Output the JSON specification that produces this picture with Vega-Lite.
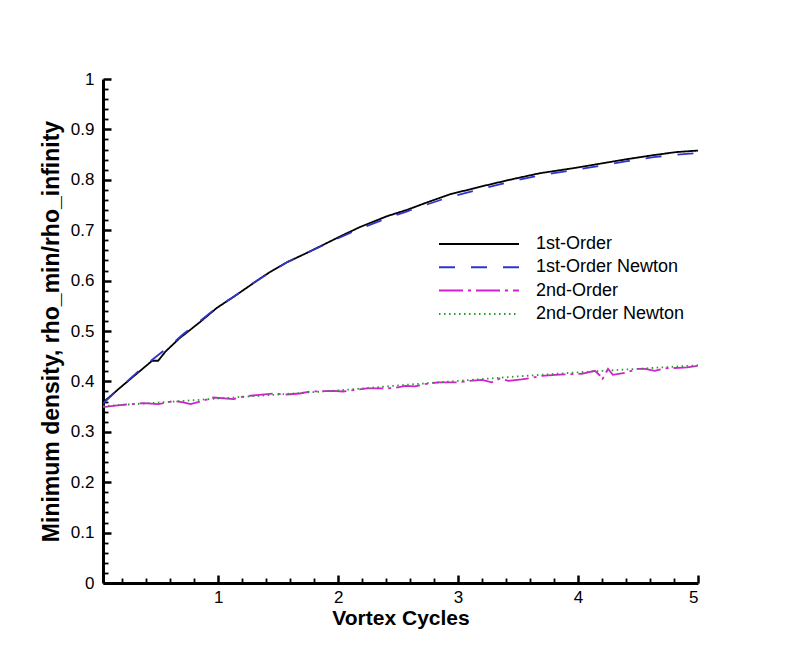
{
  "$schema": "https://vega.github.io/schema/vega-lite/v6.json",
  "width": 595,
  "height": 504,
  "autosize": {"type": "none"},
  "padding": {"left": 103, "top": 79, "right": 95, "bottom": 74},
  "background": "white",
  "config": {
    "view": {"stroke": null},
    "font": "Liberation Sans",
    "axis": {"grid": false, "domainColor": "black", "domainWidth": 3, "tickColor": "black", "labelColor": "black", "titleColor": "black"}
  },
  "data": {"values": [
    {"s": "1st-Order", "x": 0.04, "y": 0.358}, {"s": "1st-Order", "x": 0.18, "y": 0.387}, {"s": "1st-Order", "x": 0.32, "y": 0.415}, {"s": "1st-Order", "x": 0.45, "y": 0.441}, {"s": "1st-Order", "x": 0.50, "y": 0.441}, {"s": "1st-Order", "x": 0.56, "y": 0.459}, {"s": "1st-Order", "x": 0.68, "y": 0.486}, {"s": "1st-Order", "x": 0.85, "y": 0.518}, {"s": "1st-Order", "x": 0.99, "y": 0.546}, {"s": "1st-Order", "x": 1.13, "y": 0.568}, {"s": "1st-Order", "x": 1.27, "y": 0.591}, {"s": "1st-Order", "x": 1.38, "y": 0.609}, {"s": "1st-Order", "x": 1.46, "y": 0.621}, {"s": "1st-Order", "x": 1.57, "y": 0.636}, {"s": "1st-Order", "x": 1.74, "y": 0.655}, {"s": "1st-Order", "x": 1.91, "y": 0.675}, {"s": "1st-Order", "x": 2.02, "y": 0.688}, {"s": "1st-Order", "x": 2.18, "y": 0.706}, {"s": "1st-Order", "x": 2.41, "y": 0.728}, {"s": "1st-Order", "x": 2.57, "y": 0.740}, {"s": "1st-Order", "x": 2.74, "y": 0.755}, {"s": "1st-Order", "x": 2.93, "y": 0.771}, {"s": "1st-Order", "x": 3.18, "y": 0.786}, {"s": "1st-Order", "x": 3.43, "y": 0.800}, {"s": "1st-Order", "x": 3.68, "y": 0.813}, {"s": "1st-Order", "x": 3.96, "y": 0.823}, {"s": "1st-Order", "x": 4.21, "y": 0.833}, {"s": "1st-Order", "x": 4.41, "y": 0.841}, {"s": "1st-Order", "x": 4.63, "y": 0.849}, {"s": "1st-Order", "x": 4.82, "y": 0.855}, {"s": "1st-Order", "x": 5.0, "y": 0.858},
    {"s": "1st-Order Newton", "x": 0.04, "y": 0.356}, {"s": "1st-Order Newton", "x": 0.18, "y": 0.387}, {"s": "1st-Order Newton", "x": 0.32, "y": 0.417}, {"s": "1st-Order Newton", "x": 0.45, "y": 0.443}, {"s": "1st-Order Newton", "x": 0.59, "y": 0.469}, {"s": "1st-Order Newton", "x": 0.70, "y": 0.492}, {"s": "1st-Order Newton", "x": 0.85, "y": 0.520}, {"s": "1st-Order Newton", "x": 0.99, "y": 0.547}, {"s": "1st-Order Newton", "x": 1.13, "y": 0.568}, {"s": "1st-Order Newton", "x": 1.27, "y": 0.592}, {"s": "1st-Order Newton", "x": 1.46, "y": 0.620}, {"s": "1st-Order Newton", "x": 1.57, "y": 0.636}, {"s": "1st-Order Newton", "x": 1.74, "y": 0.655}, {"s": "1st-Order Newton", "x": 1.91, "y": 0.674}, {"s": "1st-Order Newton", "x": 2.02, "y": 0.686}, {"s": "1st-Order Newton", "x": 2.18, "y": 0.703}, {"s": "1st-Order Newton", "x": 2.41, "y": 0.724}, {"s": "1st-Order Newton", "x": 2.57, "y": 0.737}, {"s": "1st-Order Newton", "x": 2.74, "y": 0.751}, {"s": "1st-Order Newton", "x": 2.93, "y": 0.766}, {"s": "1st-Order Newton", "x": 3.18, "y": 0.781}, {"s": "1st-Order Newton", "x": 3.43, "y": 0.796}, {"s": "1st-Order Newton", "x": 3.68, "y": 0.809}, {"s": "1st-Order Newton", "x": 3.96, "y": 0.819}, {"s": "1st-Order Newton", "x": 4.21, "y": 0.829}, {"s": "1st-Order Newton", "x": 4.41, "y": 0.837}, {"s": "1st-Order Newton", "x": 4.63, "y": 0.845}, {"s": "1st-Order Newton", "x": 4.82, "y": 0.850}, {"s": "1st-Order Newton", "x": 5.0, "y": 0.853},
    {"s": "2nd-Order", "x": 0.04, "y": 0.349}, {"s": "2nd-Order", "x": 0.18, "y": 0.353}, {"s": "2nd-Order", "x": 0.38, "y": 0.357}, {"s": "2nd-Order", "x": 0.50, "y": 0.355}, {"s": "2nd-Order", "x": 0.63, "y": 0.361}, {"s": "2nd-Order", "x": 0.70, "y": 0.359}, {"s": "2nd-Order", "x": 0.77, "y": 0.355}, {"s": "2nd-Order", "x": 0.85, "y": 0.360}, {"s": "2nd-Order", "x": 0.96, "y": 0.368}, {"s": "2nd-Order", "x": 1.13, "y": 0.365}, {"s": "2nd-Order", "x": 1.21, "y": 0.370}, {"s": "2nd-Order", "x": 1.29, "y": 0.372}, {"s": "2nd-Order", "x": 1.46, "y": 0.376}, {"s": "2nd-Order", "x": 1.57, "y": 0.374}, {"s": "2nd-Order", "x": 1.68, "y": 0.376}, {"s": "2nd-Order", "x": 1.77, "y": 0.380}, {"s": "2nd-Order", "x": 1.96, "y": 0.381}, {"s": "2nd-Order", "x": 2.04, "y": 0.380}, {"s": "2nd-Order", "x": 2.24, "y": 0.386}, {"s": "2nd-Order", "x": 2.38, "y": 0.386}, {"s": "2nd-Order", "x": 2.47, "y": 0.387}, {"s": "2nd-Order", "x": 2.56, "y": 0.391}, {"s": "2nd-Order", "x": 2.64, "y": 0.390}, {"s": "2nd-Order", "x": 2.75, "y": 0.396}, {"s": "2nd-Order", "x": 2.84, "y": 0.398}, {"s": "2nd-Order", "x": 3.00, "y": 0.398}, {"s": "2nd-Order", "x": 3.09, "y": 0.401}, {"s": "2nd-Order", "x": 3.20, "y": 0.403}, {"s": "2nd-Order", "x": 3.28, "y": 0.398}, {"s": "2nd-Order", "x": 3.35, "y": 0.406}, {"s": "2nd-Order", "x": 3.42, "y": 0.401}, {"s": "2nd-Order", "x": 3.53, "y": 0.404}, {"s": "2nd-Order", "x": 3.61, "y": 0.407}, {"s": "2nd-Order", "x": 3.70, "y": 0.411}, {"s": "2nd-Order", "x": 3.81, "y": 0.413}, {"s": "2nd-Order", "x": 3.89, "y": 0.414}, {"s": "2nd-Order", "x": 4.03, "y": 0.415}, {"s": "2nd-Order", "x": 4.14, "y": 0.421}, {"s": "2nd-Order", "x": 4.19, "y": 0.410}, {"s": "2nd-Order", "x": 4.20, "y": 0.403}, {"s": "2nd-Order", "x": 4.25, "y": 0.425}, {"s": "2nd-Order", "x": 4.29, "y": 0.413}, {"s": "2nd-Order", "x": 4.39, "y": 0.417}, {"s": "2nd-Order", "x": 4.50, "y": 0.425}, {"s": "2nd-Order", "x": 4.56, "y": 0.425}, {"s": "2nd-Order", "x": 4.64, "y": 0.421}, {"s": "2nd-Order", "x": 4.73, "y": 0.426}, {"s": "2nd-Order", "x": 4.84, "y": 0.427}, {"s": "2nd-Order", "x": 4.91, "y": 0.428}, {"s": "2nd-Order", "x": 5.0, "y": 0.431},
    {"s": "2nd-Order Newton", "x": 0.04, "y": 0.351}, {"s": "2nd-Order Newton", "x": 0.5, "y": 0.358}, {"s": "2nd-Order Newton", "x": 1.0, "y": 0.366}, {"s": "2nd-Order Newton", "x": 1.5, "y": 0.374}, {"s": "2nd-Order Newton", "x": 2.0, "y": 0.382}, {"s": "2nd-Order Newton", "x": 2.5, "y": 0.392}, {"s": "2nd-Order Newton", "x": 3.0, "y": 0.401}, {"s": "2nd-Order Newton", "x": 3.5, "y": 0.410}, {"s": "2nd-Order Newton", "x": 4.0, "y": 0.418}, {"s": "2nd-Order Newton", "x": 4.5, "y": 0.425}, {"s": "2nd-Order Newton", "x": 5.0, "y": 0.432}
  ]},
  "layer": [
    {
      "mark": {"type": "line", "strokeWidth": 1.8, "clip": true},
      "encoding": {
        "x": {"field": "x", "type": "quantitative", "scale": {"domain": [0.04, 5], "nice": false, "zero": false},
          "axis": {"orient": "bottom", "values": [1, 2, 3, 4, 5], "ticks": false, "labelPadding": 6, "labelFontSize": 17, "labelFont": "Liberation Sans", "title": "Vortex Cycles", "titleFont": "Liberation Sans", "titleFontSize": 21, "titleFontWeight": "bold", "titlePadding": 2}},
        "y": {"field": "y", "type": "quantitative", "scale": {"domain": [0, 1], "nice": false},
          "axis": {"orient": "left", "values": [0, 0.1, 0.2, 0.3, 0.4, 0.5, 0.6, 0.7, 0.8, 0.9, 1], "format": ".1~f", "ticks": false, "labelPadding": 9, "labelFontSize": 17, "labelFont": "Liberation Sans", "title": "Minimum density, rho_min/rho_infinity", "titleFont": "Liberation Sans", "titleFontSize": 23, "titleFontWeight": "bold", "titlePadding": 7}},
        "color": {"field": "s", "type": "nominal",
          "scale": {"domain": ["1st-Order", "1st-Order Newton", "2nd-Order", "2nd-Order Newton"], "range": ["#000000", "#3333cc", "#d21fd2", "#2a9a2a"]},
          "legend": {"orient": "none", "legendX": 335, "legendY": 155, "title": null, "symbolType": "stroke", "symbolSize": 6400, "symbolStrokeWidth": 2, "clipHeight": 20, "labelFontSize": 18, "labelFont": "Liberation Sans", "labelColor": "black", "labelOffset": 16, "rowPadding": 3.3, "padding": 0}},
        "strokeDash": {"field": "s", "type": "nominal",
          "scale": {"domain": ["1st-Order", "1st-Order Newton", "2nd-Order", "2nd-Order Newton"], "range": [[1, 0], [16, 16], [24, 5, 3, 5], [1.5, 3.5]]},
          "legend": {"orient": "none", "legendX": 335, "legendY": 155, "title": null, "symbolType": "stroke", "symbolSize": 6400, "symbolStrokeWidth": 2, "clipHeight": 20, "labelFontSize": 18, "labelFont": "Liberation Sans", "labelColor": "black", "labelOffset": 16, "rowPadding": 3.3, "padding": 0}}
      }
    },
    {
      "mark": {"type": "point", "opacity": 0},
      "encoding": {
        "x": {"field": "x", "type": "quantitative",
          "axis": {"orient": "top", "offset": -504, "values": [1, 2, 3, 4, 5], "labels": false, "domain": false, "tickSize": 8, "tickWidth": 2.5, "title": null}},
        "y": {"field": "y", "type": "quantitative",
          "axis": {"orient": "right", "offset": -595, "values": [0, 0.1, 0.2, 0.3, 0.4, 0.5, 0.6, 0.7, 0.8, 0.9, 1], "labels": false, "domain": false, "tickSize": 8, "tickWidth": 2.5, "title": null}}
      }
    },
    {
      "mark": {"type": "point", "opacity": 0},
      "encoding": {
        "x": {"field": "x", "type": "quantitative",
          "axis": {"orient": "top", "offset": -504, "values": [0.2, 0.4, 0.6, 0.8, 1.2, 1.4, 1.6, 1.8, 2.2, 2.4, 2.6, 2.8, 3.2, 3.4, 3.6, 3.8, 4.2, 4.4, 4.6, 4.8], "labels": false, "domain": false, "tickSize": 5, "tickWidth": 1.8, "title": null}},
        "y": {"field": "y", "type": "quantitative",
          "axis": {"orient": "right", "offset": -595, "values": [0.02, 0.04, 0.06, 0.08, 0.12, 0.14, 0.16, 0.18, 0.22, 0.24, 0.26, 0.28, 0.32, 0.34, 0.36, 0.38, 0.42, 0.44, 0.46, 0.48, 0.52, 0.54, 0.56, 0.58, 0.62, 0.64, 0.66, 0.68, 0.72, 0.74, 0.76, 0.78, 0.82, 0.84, 0.86, 0.88, 0.92, 0.94, 0.96, 0.98], "labels": false, "domain": false, "tickSize": 5, "tickWidth": 1.8, "title": null}}
      }
    }
  ],
  "resolve": {"axis": {"x": "independent", "y": "independent"}}
}
